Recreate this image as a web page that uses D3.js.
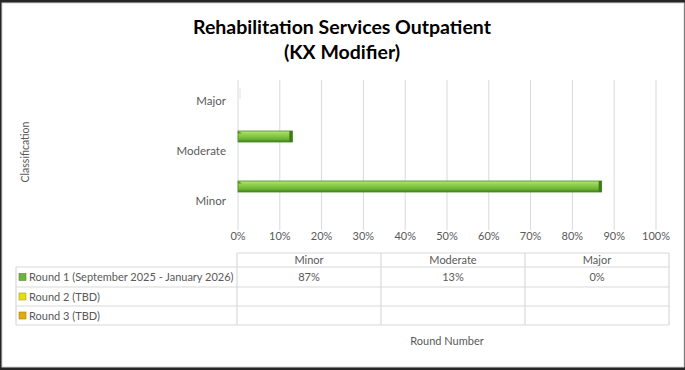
<!DOCTYPE html>
<html>
<head>
<meta charset="utf-8">
<script src="https://cdn.jsdelivr.net/npm/d3@7"></script>
<style>
  html, body { margin: 0; padding: 0; background: #262626; }
  svg { display: block; }
</style>
</head>
<body>
<svg id="chart" width="685" height="370"></svg>
<script>
const categories = ["Minor", "Moderate", "Major"];
const rounds = ["Round 1 (September 2025 - January 2026)", "Round 2 (TBD)", "Round 3 (TBD)"];
const round1 = [87, 13, 0];
const round2 = [null, null, null];
const round3 = [null, null, null];
const xTicks = [0, 10, 20, 30, 40, 50, 60, 70, 80, 90, 100];
const roundColors = ["#6fb43a", "#e4dc18", "#e0aa10"];

const svg = d3.select("#chart");
const font = "Lato, 'Open Sans', sans-serif";
const grey = "#595959";

// frame
svg.append("rect")
    .attr("x", 2).attr("y", 3)
    .attr("width", 682).attr("height", 364)
    .attr("fill", "#ffffff")
    .attr("stroke", "#d4d4d4")
    .attr("stroke-width", 1);

// title
svg.append("text")
    .attr("x", 342).attr("y", 34)
    .attr("text-anchor", "middle")
    .attr("font-family", font).attr("font-weight", "bold")
    .attr("font-size", "19.5px").attr("fill", "#000")
    .text("Rehabilitation Services Outpatient");
svg.append("text")
    .attr("x", 342).attr("y", 59)
    .attr("text-anchor", "middle")
    .attr("font-family", font).attr("font-weight", "bold")
    .attr("font-size", "19.5px").attr("fill", "#000")
    .text("(KX Modifier)");

const x = d3.scaleLinear().domain([0, 100]).range([238, 656]);
const y = d3.scaleBand().domain(categories.slice().reverse()).range([80, 230]);
const ySub = d3.scaleBand().domain(rounds).range([1, 34]);

// gridlines
svg.append("g").selectAll("line").data(xTicks).join("line")
    .attr("x1", d => x(d)).attr("x2", d => x(d))
    .attr("y1", 80).attr("y2", 230)
    .attr("stroke", "#d9d9d9").attr("stroke-width", 1);

// x tick labels
svg.append("g").selectAll("text").data(xTicks).join("text")
    .attr("x", d => x(d)).attr("y", 240)
    .attr("text-anchor", "middle")
    .attr("font-family", font).attr("font-size", "11px").attr("fill", grey)
    .text(d => d + "%");

// category labels
svg.append("g").selectAll("text").data(categories).join("text")
    .attr("x", 226).attr("y", d => y(d) + y.bandwidth() / 2)
    .attr("text-anchor", "end")
    .attr("font-family", font).attr("font-size", "11.5px").attr("fill", grey)
    .text(d => d);

// y axis title
svg.append("text")
    .attr("transform", "translate(29,152) rotate(-90)")
    .attr("text-anchor", "middle")
    .attr("font-family", font).attr("font-size", "10.5px").attr("fill", grey)
    .text("Classification");

// bar gradient
const defs = svg.append("defs");
const grad = defs.append("linearGradient").attr("id", "barGrad")
    .attr("x1", 0).attr("y1", 0).attr("x2", 0).attr("y2", 1);
grad.append("stop").attr("offset", "0%").attr("stop-color", "#b9e27e");
grad.append("stop").attr("offset", "35%").attr("stop-color", "#8ccf4a");
grad.append("stop").attr("offset", "75%").attr("stop-color", "#6cb233");
grad.append("stop").attr("offset", "100%").attr("stop-color", "#3f7d1c");

const bars = [round1, round2, round3];
bars.forEach((series, si) => {
    categories.forEach((c, ci) => {
        const v = series[ci];
        if (v === null) return;
        const y0 = y(c) + ySub(rounds[si]);
        const h = ySub.bandwidth();
        const w = x(v) - x(0);
        if (w <= 0) {
            // empty bar end cap
            svg.append("rect")
                .attr("x", x(0) + 1).attr("y", y0 + 7)
                .attr("width", 2).attr("height", h)
                .attr("fill", "#f0f0f0");
            return;
        }
        svg.append("rect")
            .attr("x", x(0)).attr("y", y0)
            .attr("width", w).attr("height", h)
            .attr("fill", "url(#barGrad)")
            .attr("stroke", "#4a8a22").attr("stroke-width", 0.8);
        svg.append("rect")
            .attr("x", x(v) - 3).attr("y", y0)
            .attr("width", 3).attr("height", h)
            .attr("fill", "#3f7a1a");
        svg.append("path")
            .attr("d", `M${x(0)},${y0} L${x(0) + 4},${y0 + 2.5} L${x(0)},${y0 + 2.5} Z`)
            .attr("fill", "#4f8f25");
    });
});

// data table
const colX = [237, 381, 525, 669];
const rowY = [253, 267, 287, 306, 325];
const tableLeft = 16;
const line = (x1, y1, x2, y2) => svg.append("line")
    .attr("x1", x1).attr("y1", y1).attr("x2", x2).attr("y2", y2)
    .attr("stroke", "#d9d9d9").attr("stroke-width", 1.2);

line(colX[0], rowY[0], colX[3], rowY[0]);
for (let r = 1; r < rowY.length; r++) line(tableLeft, rowY[r], colX[3], rowY[r]);
colX.forEach(cx => line(cx, rowY[0], cx, rowY[4]));
line(tableLeft, rowY[1], tableLeft, rowY[4]);

// header
categories.forEach((c, i) => {
    svg.append("text")
        .attr("x", (colX[i] + colX[i + 1]) / 2).attr("y", rowY[0] + 11)
        .attr("text-anchor", "middle")
        .attr("font-family", font).attr("font-size", "11px").attr("fill", grey)
        .text(c);
});

// rows
bars.forEach((series, si) => {
    const ry = rowY[si + 1];
    const rh = rowY[si + 2] - ry;
    svg.append("rect")
        .attr("x", 19).attr("y", ry + rh / 2 - 3.5)
        .attr("width", 7).attr("height", 7)
        .attr("fill", roundColors[si])
        .attr("stroke", d3.color(roundColors[si]).darker(0.8)).attr("stroke-width", 0.6);
    svg.append("text")
        .attr("x", 29).attr("y", ry + rh / 2 + 4)
        .attr("font-family", font).attr("font-size", "11px").attr("fill", grey)
        .text(rounds[si]);
    series.forEach((v, ci) => {
        if (v === null) return;
        svg.append("text")
            .attr("x", (colX[ci] + colX[ci + 1]) / 2).attr("y", ry + rh / 2 + 4)
            .attr("text-anchor", "middle")
            .attr("font-family", font).attr("font-size", "11px").attr("fill", grey)
            .text(v + "%");
    });
});

// x axis title
svg.append("text")
    .attr("x", 447).attr("y", 345)
    .attr("text-anchor", "middle")
    .attr("font-family", font).attr("font-size", "11px").attr("fill", grey)
    .text("Round Number");
</script>
</body>
</html>
